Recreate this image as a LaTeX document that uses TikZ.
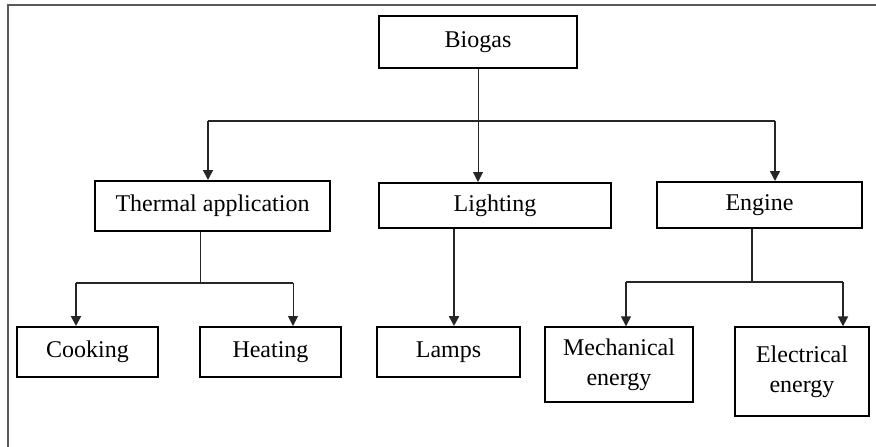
\documentclass[tikz,border=0pt]{standalone}
\usepackage{fontspec}
\setmainfont{Liberation Serif}
\usetikzlibrary{arrows.meta}
\begin{document}
\begin{tikzpicture}[x=1pt,y=-1pt,
  box/.style={draw=black,line width=2pt,rectangle,inner sep=0pt,align=center,
     font=\fontsize{24}{30}\selectfont},
  conn/.style={line width=1.5pt,draw=black!85},
  arr/.style={conn,-{Triangle[length=10pt,width=10pt]}}]
\useasboundingbox (0,0) rectangle (876,447);
\fill[white] (0,0) rectangle (876,447);
% frame
\draw[line width=1.2pt,black!65] (8,447) -- (8,5) -- (876,5);
% boxes
\node[box,minimum width=198pt,minimum height=52pt] (bio) at (478,42) {Biogas};
\node[box,minimum width=235pt,minimum height=50pt] (thermal) at (212.5,206) {Thermal application};
\node[box,minimum width=232pt,minimum height=45pt] (light) at (495,205.5) {Lighting};
\node[box,minimum width=205pt,minimum height=46pt] (engine) at (759.5,205) {Engine};
\node[box,minimum width=141pt,minimum height=50pt] (cook) at (87.5,352) {Cooking};
\node[box,minimum width=141pt,minimum height=50pt] (heat) at (270.5,352) {Heating};
\node[box,minimum width=143pt,minimum height=50pt] (lamps) at (448.5,352) {Lamps};
\node[box,line width=1.4pt,minimum width=148pt,minimum height=75pt] (mech) at (619,364.5) {Mechanical\\energy};
\node[box,line width=1.4pt,minimum width=134pt,minimum height=89pt] (elec) at (802,371.5) {Electrical\\energy};
% level 1 connectors
\coordinate (jl) at (208,121);
\coordinate (jr) at (775,121);
\draw[conn] (jl) -- (jr);
\draw[arr] (jl) -- (jl |- thermal.north);
\draw[arr] (jr) -- (jr |- engine.north);
\draw[arr,line width=1pt] (bio.south) -- (bio.south |- light.north);
% thermal
\coordinate (tj) at (200,283);
\coordinate (tl) at (76,283);
\coordinate (tr) at (293,283);
\draw[conn,line width=1pt] (tj |- thermal.south) -- (tj);
\draw[conn] (tl) -- (tr);
\draw[arr,line width=2pt] (tl) -- (tl |- cook.north);
\draw[arr,line width=1pt] (tr) -- (tr |- heat.north);
% lighting
\coordinate (lx) at (454,0);
\draw[arr,line width=2.4pt] (lx |- light.south) -- (lx |- lamps.north);
% engine
\coordinate (ej) at (752,282);
\coordinate (el) at (626,282);
\coordinate (er) at (843,282);
\draw[conn,line width=1.7pt] (ej |- engine.south) -- (ej);
\draw[conn] (el) -- (er);
\draw[arr] (el) -- (el |- mech.north);
\draw[arr,line width=2pt] (er) -- (er |- elec.north);
\end{tikzpicture}
\end{document}
